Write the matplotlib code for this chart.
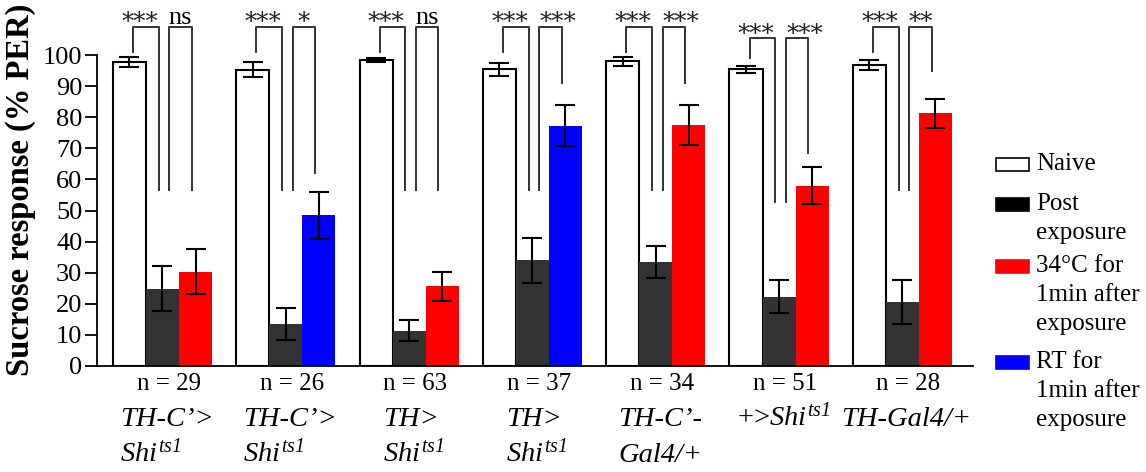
import numpy as np
import matplotlib
matplotlib.use('Agg')
import matplotlib.pyplot as plt
from matplotlib.patches import Rectangle

plt.rcParams['font.family'] = 'Liberation Serif'
plt.rcParams['mathtext.fontset'] = 'custom'
plt.rcParams['mathtext.rm'] = 'Liberation Serif:italic'
plt.rcParams['mathtext.it'] = 'Liberation Serif:italic'
plt.rcParams['mathtext.bf'] = 'Liberation Serif:bold'

# values (% PER, mean +- sem)
naive = [97.7, 95.2, 98.4, 95.4, 98.0, 95.4, 96.8]
naive_err = [1.5, 2.4, 0.6, 2.0, 1.4, 1.2, 1.7]
post = [24.8, 13.4, 11.4, 34.0, 33.4, 22.3, 20.6]
post_err = [7.2, 5.1, 3.3, 7.3, 5.1, 5.2, 7.1]
after = [30.3, 48.4, 25.6, 77.2, 77.6, 58.0, 81.2]
after_err = [7.3, 7.5, 4.7, 6.6, 6.4, 5.9, 4.7]
after_kind = ['34C', 'RT', '34C', 'RT', '34C', '34C', '34C']
n_flies = [29, 26, 63, 37, 34, 51, 28]
geno_line1 = ['TH-C\u2019>', 'TH-C\u2019>', 'TH>', 'TH>', 'TH-C\u2019-',
              '+>$Shi^{ts1}$', 'TH-Gal4/+']
geno_line2 = ['$Shi^{ts1}$', '$Shi^{ts1}$', '$Shi^{ts1}$', '$Shi^{ts1}$',
              'Gal4/+', '', '']
sig_post = ['***'] * 7
sig_after = ['ns', '*', 'ns', '***', '***', '***', '**']
# bracket heights (data units)
br_top = [109.1, 109.1, 109.1, 109.1, 109.1, 105.4, 109.1]
br_left = [101.1, 101.1, 101.1, 101.1, 101.1, 98.9, 101.1]
br_mid = [56.6, 56.6, 56.6, 56.6, 56.6, 52.6, 56.6]
br_right = [56.6, 62.0, 56.6, 91.1, 91.1, 68.6, 94.9]

colors = {'34C': '#ff0000', 'RT': '#0000ff'}
dark = '#333333'

fig = plt.figure(figsize=(11.46, 4.72), dpi=100)
ax = fig.add_axes([97/1146, 106/472, 876/1146, 357.65/472])

x = np.arange(len(naive))
w = 0.268
ekw = dict(elinewidth=1.5, capthick=1.5, ecolor='black')
ax.bar(x - w, naive, w, color='white', edgecolor='black', linewidth=1.5,
       yerr=naive_err, capsize=7, error_kw=ekw, zorder=2)
ax.bar(x, post, w, color=dark, yerr=post_err, capsize=7, error_kw=ekw, zorder=2)
ax.bar(x + w, after, w, color=[colors[k] for k in after_kind],
       yerr=after_err, capsize=7, error_kw=ekw, zorder=2)

ax.set_xlim(-0.531, 6.573)
ax.set_ylim(0, 115)
ax.set_yticks(np.arange(0, 101, 10))
ax.set_xticks([])
ax.tick_params(axis='y', direction='out', length=8.6, width=1.3, labelsize=19, pad=2)
for s in ['top', 'right']:
    ax.spines[s].set_visible(False)
ax.spines['left'].set_bounds(0, 100)
ax.spines['left'].set_linewidth(1.3)
ax.spines['bottom'].set_linewidth(1.3)

bk = dict(color=dark, lw=1.4, clip_on=False, zorder=3)
geno_texts = []
for i in range(len(x)):
    a0 = x[i] - w + 0.03
    a1 = x[i] - 0.03
    b0 = x[i] + 0.055
    b1 = x[i] + w - 0.03
    ax.plot([a0, a0, a1, a1], [br_left[i], br_top[i], br_top[i], br_mid[i]], **bk)
    ax.plot([b0, b0, b1, b1], [br_mid[i], br_top[i], br_top[i], br_right[i]], **bk)
    for (c0, c1, lab, shift) in [(a0, a1, sig_post[i], -0.05),
                                 (b0, b1, sig_after[i], 0.06)]:
        if lab == 'ns':
            ax.text((c0 + c1) / 2, br_top[i] + 0.9, lab, ha='center', va='baseline',
                    fontsize=19, clip_on=False)
        else:
            dx = shift if lab == '***' else 0
            ax.text((c0 + c1) / 2 + dx, br_top[i] - 0.9, lab, ha='center',
                    va='baseline', fontsize=17.5, family='DejaVu Serif',
                    color='#222222', clip_on=False)

    ax.text(x[i] + 0.05, -7.7, 'n = %d' % n_flies[i], ha='center', va='baseline',
            fontsize=18, clip_on=False)
    st = 'normal' if geno_line1[i].startswith('+') else 'italic'
    t1 = ax.text(x[i], -19.2, geno_line1[i], ha='left', va='baseline',
                 fontsize=20.5, style=st, clip_on=False)
    t2 = ax.text(x[i], -30.9, geno_line2[i], ha='left', va='baseline',
                 fontsize=20.5, style='italic', clip_on=False)
    geno_texts.append((t1, t2))

# genotype lines: left-aligned with each other, block centred on the group
renderer = fig.canvas.get_renderer()
px_per_unit = ax.transData.transform((1, 0))[0] - ax.transData.transform((0, 0))[0]
for i, (t1, t2) in enumerate(geno_texts):
    wid = max(t.get_window_extent(renderer).width for t in (t1, t2) if t.get_text())
    left = x[i] + 0.035 - wid / px_per_unit / 2
    t1.set_x(left)
    t2.set_x(left)

fig.text(21/1146, 1 - 190/472, 'Sucrose response (% PER)', rotation=90,
         ha='center', va='center', fontsize=23.5, fontweight='bold')

# legend drawn by hand
leg_labels = ['Naive', 'Post\nexposure', '34\u00b0C for\n1min after\nexposure',
              'RT for\n1min after\nexposure']
leg_face = ['white', 'black', '#ff0000', '#0000ff']
leg_top = [158, 198, 260, 356]
for lab, fc, top in zip(leg_labels, leg_face, leg_top):
    fig.add_artist(Rectangle((996/1146, 1 - (top + 13)/472), 33/1146, 13/472,
                             facecolor=fc, edgecolor='black' if fc == 'white' else fc,
                             linewidth=1.2, transform=fig.transFigure))
    fig.text(1036/1146, 1 - (top - 5)/472, lab, ha='left', va='top',
             fontsize=18, linespacing=1.42)

fig.savefig('out.png', dpi=100)
